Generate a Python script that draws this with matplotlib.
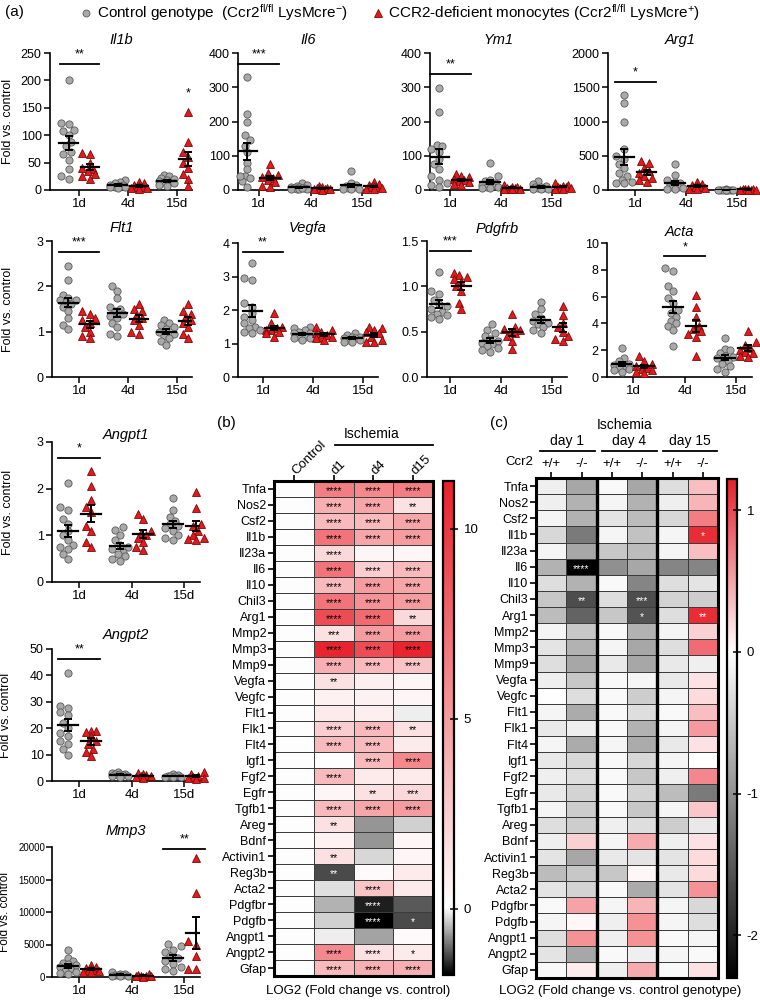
import numpy as np
import matplotlib.pyplot as plt
from matplotlib.colors import LinearSegmentedColormap, Normalize
from matplotlib.lines import Line2D

plt.rcParams['font.family'] = ['Liberation Sans', 'DejaVu Sans']
plt.rcParams['mathtext.fontset'] = 'custom'
plt.rcParams['mathtext.rm'] = 'Liberation Sans'
plt.rcParams['mathtext.it'] = 'Liberation Sans:italic'
plt.rcParams['axes.unicode_minus'] = False

W, H = 760, 1002

days = ['1d', '4d', '15d']

# (a) fold vs. control, each list = [1d, 4d, 15d]
il1b_ctrl = [[200, 123, 120, 110, 108, 100, 88, 80, 70, 65, 55, 38, 25, 20],
             [18, 15, 12, 10, 10, 8, 8, 7, 6, 5, 5, 4],
             [28, 25, 22, 20, 18, 16, 15, 14, 12, 10, 8]]
il1b_ko = [[68, 65, 50, 40, 38, 35, 30, 25, 20],
           [15, 12, 10, 8, 6, 5, 4, 3, 2],
           [142, 88, 70, 60, 50, 40, 30, 20, 8]]
il6_ctrl = [[330, 222, 200, 160, 145, 128, 110, 80, 60, 40, 35, 25, 10, 40],
            [20, 15, 12, 10, 8, 6, 5, 4, 3, 2, 2, 5],
            [55, 20, 15, 12, 10, 8, 6, 4, 3, 2]]
il6_ko = [[75, 50, 45, 38, 35, 30, 22, 12, 8],
          [12, 8, 6, 5, 4, 3, 2, 2, 1],
          [22, 18, 15, 12, 10, 8, 6, 4, 2]]
ym1_ctrl = [[298, 228, 130, 128, 120, 110, 90, 75, 60, 40, 30, 20, 15, 10],
            [80, 40, 30, 25, 20, 18, 15, 12, 10, 8, 5, 5],
            [25, 18, 12, 10, 8, 6, 5, 4, 3, 2]]
ym1_ko = [[48, 42, 38, 32, 28, 25, 22, 18, 15],
          [15, 10, 8, 6, 5, 4, 3, 2, 2],
          [20, 15, 12, 10, 8, 6, 5, 4, 3]]
arg1_ctrl = [[1380, 1270, 1000, 600, 500, 450, 380, 320, 250, 200, 150, 120, 100, 100],
             [380, 220, 150, 120, 100, 80, 60, 50, 40, 30, 20, 10],
             [8, 6, 5, 4, 3, 3, 2, 2, 1, 1]]
arg1_ko = [[430, 400, 320, 280, 250, 200, 180, 150, 110],
           [120, 90, 70, 60, 50, 40, 30, 20, 10],
           [20, 15, 10, 8, 6, 5, 4, 3, 2]]
flt1_ctrl = [[2.45, 2.15, 1.8, 1.75, 1.7, 1.7, 1.65, 1.6, 1.55, 1.45, 1.3, 1.15, 1.05],
             [2.0, 1.9, 1.75, 1.55, 1.5, 1.45, 1.4, 1.35, 1.3, 1.2, 1.1, 0.95, 0.9],
             [1.25, 1.2, 1.15, 1.1, 1.05, 1.0, 0.95, 0.9, 0.85, 0.8, 0.7]]
flt1_ko = [[1.45, 1.4, 1.3, 1.25, 1.2, 1.1, 1.0, 0.9, 0.85],
           [1.6, 1.5, 1.45, 1.35, 1.3, 1.25, 1.15, 1.0, 0.95],
           [1.6, 1.45, 1.4, 1.3, 1.25, 1.2, 1.1, 0.95, 0.85]]
vegfa_ctrl = [[3.4, 2.95, 2.9, 2.2, 2.1, 1.9, 1.8, 1.7, 1.6, 1.5, 1.45, 1.4, 1.35, 1.3],
              [1.5, 1.45, 1.4, 1.35, 1.3, 1.3, 1.25, 1.2, 1.2, 1.15, 1.15, 1.1],
              [1.3, 1.25, 1.2, 1.2, 1.15, 1.15, 1.1, 1.1, 1.05, 1.05]]
vegfa_ko = [[1.9, 1.6, 1.5, 1.45, 1.4, 1.4, 1.35, 1.3, 1.2],
            [1.5, 1.4, 1.35, 1.3, 1.25, 1.2, 1.2, 1.15, 1.1],
            [1.5, 1.45, 1.4, 1.35, 1.3, 1.2, 1.1, 1.05, 1.05]]
pdgfrb_ctrl = [[1.16, 0.95, 0.92, 0.85, 0.8, 0.78, 0.75, 0.72, 0.7, 0.68, 0.66, 0.64],
               [0.58, 0.52, 0.48, 0.45, 0.42, 0.4, 0.38, 0.36, 0.34, 0.32, 0.3, 0.28],
               [0.83, 0.75, 0.7, 0.65, 0.62, 0.6, 0.58, 0.55, 0.52, 0.48]]
pdgfrb_ko = [[1.15, 1.12, 1.1, 1.08, 1.05, 1.0, 0.95, 0.82, 0.75],
             [0.7, 0.55, 0.53, 0.52, 0.5, 0.48, 0.45, 0.4, 0.31],
             [0.78, 0.68, 0.6, 0.55, 0.5, 0.45, 0.42, 0.4]]
acta_ctrl = [[2.2, 1.4, 1.2, 1.0, 0.9, 0.8, 0.7, 0.6, 0.5, 0.4],
             [8.1, 7.9, 6.8, 6.4, 5.9, 5.5, 5.0, 4.8, 4.5, 4.2, 4.0, 3.8, 3.5, 2.3],
             [2.9, 2.1, 2.0, 1.8, 1.6, 1.5, 1.4, 1.2, 1.0, 0.8, 0.6, 0.4]]
acta_ko = [[1.6, 1.2, 1.0, 0.8, 0.7, 0.6, 0.5, 0.4, 0.3],
           [6.1, 5.2, 4.5, 3.8, 3.6, 3.4, 3.2, 3.0, 1.6],
           [3.4, 2.6, 2.4, 2.2, 2.0, 1.9, 1.8, 1.6, 1.5]]
angpt1_ctrl = [[2.12, 1.6, 1.55, 1.35, 1.25, 1.1, 1.0, 0.9, 0.8, 0.75, 0.7, 0.6, 0.5],
               [1.18, 1.12, 1.0, 0.9, 0.8, 0.75, 0.7, 0.65, 0.6, 0.55, 0.5, 0.45],
               [1.8, 1.55, 1.4, 1.3, 1.25, 1.2, 1.15, 1.1, 1.0, 0.95, 0.9]]
angpt1_ko = [[2.38, 2.05, 1.75, 1.6, 1.5, 1.2, 1.1, 0.85, 0.75],
             [1.45, 1.35, 1.1, 1.05, 1.0, 0.95, 0.85, 0.75, 0.68],
             [1.92, 1.58, 1.25, 1.2, 1.1, 1.0, 0.95, 0.92, 0.9]]
angpt2_ctrl = [[41, 28.5, 27.5, 26, 25, 22, 20, 18, 17, 15, 14, 12, 10],
               [3.5, 3, 2.8, 2.6, 2.5, 2.3, 2.2, 2, 1.8, 1.5],
               [2.5, 2.2, 2, 1.9, 1.8, 1.6, 1.5, 1.4]]
angpt2_ko = [[19, 19, 18.5, 17, 15, 14, 12, 11, 9.5],
             [3, 2.5, 2.2, 2, 1.8, 1.5, 1.2],
             [3.5, 2.5, 2, 1.5, 1.2, 1, 0.8]]
mmp3_ctrl = [[4100, 2900, 2500, 2200, 2000, 1800, 1500, 1200, 1000, 800, 600, 400],
             [700, 500, 400, 350, 300, 250, 200, 150, 100],
             [5100, 4700, 4200, 3800, 3200, 2900, 2500, 2000, 1500, 1200, 1000]]
mmp3_ko = [[1900, 1600, 1400, 1200, 1100, 1000, 900, 800, 700],
           [400, 300, 200, 150, 100, 80, 60],
           [18300, 13000, 5500, 5000, 3300, 1300, 1300]]

# (b) / (c) heatmaps
genes = ['Tnfa', 'Nos2', 'Csf2', 'Il1b', 'Il23a', 'Il6', 'Il10', 'Chil3', 'Arg1',
         'Mmp2', 'Mmp3', 'Mmp9', 'Vegfa', 'Vegfc', 'Flt1', 'Flk1', 'Flt4', 'Igf1',
         'Fgf2', 'Egfr', 'Tgfb1', 'Areg', 'Bdnf', 'Activin1', 'Reg3b', 'Acta2',
         'Pdgfbr', 'Pdgfb', 'Angpt1', 'Angpt2', 'Gfap']
b_cols = ['Control', 'd1', 'd4', 'd15']
b_vals = [[6.5, 6.0, 6.5], [4.0, 4.5, 1.5], [3.5, 3.5, 4.5], [7.0, 4.5, 5.0],
          [2.0, 0.5, 0.5], [7.0, 2.5, 3.5], [3.5, 5.0, 4.5], [7.0, 5.5, 5.0],
          [9.0, 7.5, 2.0], [1.5, 5.0, 5.0], [11.0, 9.0, 11.0], [4.0, 3.5, 3.0],
          [1.5, 0.8, 0.5], [0.7, 0.7, 0.5], [1.0, 0.8, -0.1], [2.5, 3.5, 1.5],
          [3.5, 3.5, 1.0], [0.0, 3.5, 6.0], [3.5, 1.0, 1.0], [0.5, 1.5, 2.0],
          [3.5, 4.5, 5.0], [1.5, -0.7, -0.3], [0.7, -0.7, 0.5], [1.5, -0.25, 0.5],
          [-1.2, 0.3, 1.0], [-0.2, 3.0, 1.0], [-0.5, -1.5, -1.1], [-0.3, -1.75, -1.2],
          [-0.1, -0.6, 0.3], [6.0, 1.5, 1.0], [3.5, 4.0, 4.0]]
b_stars = [['****', '****', '****'], ['****', '****', '**'], ['****', '****', '****'],
           ['****', '****', '****'], ['****', '', ''], ['****', '****', '****'],
           ['****', '****', '****'], ['****', '****', '****'], ['****', '****', '**'],
           ['***', '****', '****'], ['****', '****', '****'], ['****', '****', '****'],
           ['**', '', ''], ['', '', ''], ['', '', ''], ['****', '****', '**'],
           ['****', '****', ''], ['', '****', '****'], ['****', '', ''], ['', '**', '***'],
           ['****', '****', '****'], ['**', '', ''], ['', '', ''], ['**', '', ''],
           ['**', '', ''], ['', '****', ''], ['', '****', ''], ['', '****', '*'],
           ['', '', ''], ['****', '****', '*'], ['****', '****', '****']]
b_ticks = [10, 5, 0]
B_MIN, B_MAX = -1.75, 11.25

c_groups = ['day 1', 'day 4', 'day 15']
c_cols = ['+/+', '-/-', '+/+', '-/-', '+/+', '-/-']
c_vals = [[-0.15, -0.8, -0.05, -0.8, -0.3, 0.35], [-0.15, -0.7, -0.1, -0.7, -0.15, 0.4],
          [-0.1, -0.7, -0.25, -0.6, -0.35, 0.7], [-0.35, -1.2, -0.1, -0.55, -0.1, 1.15],
          [-0.1, -0.8, -0.5, -0.6, -0.1, 0.35], [-0.7, -2.3, -1.0, -0.8, -1.1, -1.1],
          [-0.3, -0.7, -0.05, -1.1, -0.3, -0.25], [-0.5, -1.6, -0.3, -1.6, -0.4, -0.45],
          [-0.6, -1.4, -0.5, -1.55, -0.3, 1.15], [-0.1, -0.5, -0.05, -0.7, -0.1, 0.25],
          [-0.25, -0.7, -0.1, -0.8, -0.3, 0.8], [-0.3, -0.8, -0.2, -0.8, -0.2, -0.15],
          [-0.15, -0.5, -0.05, -0.1, -0.2, 0.15], [0.0, -0.3, -0.05, -0.45, -0.1, 0.2],
          [-0.1, -0.75, -0.05, -0.3, -0.05, 0.35], [-0.2, -0.15, -0.05, -0.7, -0.1, 0.55],
          [-0.1, -0.75, -0.1, -0.75, -0.2, 0.15], [-0.2, -0.35, -0.05, -0.35, -0.1, 0.0],
          [-0.15, -0.3, -0.05, -0.5, -0.15, 0.65], [-0.2, -0.4, -0.05, -0.4, -0.6, -1.2],
          [-0.1, -0.45, -0.05, -0.5, -0.1, 0.3], [-0.3, -0.45, -0.15, -0.3, -0.45, -0.2],
          [-0.15, 0.25, -0.1, 0.45, -0.15, 0.15], [-0.25, -0.8, -0.2, -0.25, -0.25, 0.2],
          [-0.6, -0.5, -0.5, 0.05, -0.2, 0.2], [-0.25, -0.4, -0.05, -0.75, -0.25, 0.6],
          [-0.05, 0.5, -0.1, 0.4, -0.1, -0.35], [-0.1, 0.05, -0.15, 0.6, -0.1, -0.3],
          [-0.3, 0.6, -0.15, 0.6, -0.05, -0.1], [-0.25, -0.8, -0.05, -0.15, -0.1, -0.05],
          [-0.05, 0.1, -0.15, 0.45, -0.05, 0.15]]
c_stars = {(3, 5): '*', (5, 1): '****', (7, 1): '**', (7, 3): '***',
           (8, 3): '*', (8, 5): '**'}
c_ticks = [1, 0, -1, -2]
C_MIN, C_MAX = -2.3, 1.22

GRAY, GRAY_EDGE = '#a9a9a9', '#5a5a5a'
RED, RED_EDGE = '#e3191c', '#7a0a0a'
HEAT_RED = '#e8202a'

fig = plt.figure(figsize=(W / 100, H / 100), dpi=100)


def px_axes(x0, y0, x1, y1):
    return fig.add_axes([x0 / W, 1 - y1 / H, (x1 - x0) / W, (y1 - y0) / H])


def fig_text(x, y, s, **kw):
    fig.text(x / W, 1 - y / H, s, **kw)


def fig_line(x0, x1, y, lw=1.3):
    fig.add_artist(Line2D([x0 / W, x1 / W], [1 - y / H, 1 - y / H],
                          transform=fig.transFigure, color='k', lw=lw))


def swarm(vals, ypx, xpx, d=6.5, step=2.6):
    # spread points sideways a little; dense clusters are allowed to overlap
    order = np.argsort(vals)
    placed = []
    offs = np.zeros(len(vals))
    cands = [0, -1, 1, -2, 2, -3, 3]
    for i in order:
        y = vals[i] * ypx
        best, best_d = 0.0, -1.0
        for k in cands:
            x = k * step
            md = min([np.hypot(x - px, y - py) for px, py in placed] + [99.0])
            if md >= d:
                best = x
                break
            if md > best_d + 0.5:
                best, best_d = x, md
        placed.append((best, y))
        offs[i] = best / xpx
    return offs


def dot_panel(box, title_y, title, ctrl, ko, ymax, step, sig, left=0.5,
              ylabel_x=None, fmt='{:g}', tick_fs=9, label_fs=9):
    ax = px_axes(*box)
    x0, y0, x1, y1 = box
    right = 2.3
    xpx = (x1 - x0) / (left + right)
    ypx = (y1 - y0) / ymax
    for g in range(3):
        for vals, dx, mk, fc, ec, ms in [(ctrl[g], -0.22, 'o', GRAY, GRAY_EDGE, 5.2),
                                         (ko[g], 0.22, '^', RED, RED_EDGE, 5.6)]:
            v = np.array(vals, float)
            xs = g + dx + swarm(v, ypx, xpx)
            ax.plot(xs, v, ls='none', marker=mk, ms=ms, mfc=fc, mec=ec, mew=0.6,
                    clip_on=False, zorder=3)
            m = v.mean()
            se = v.std(ddof=1) / np.sqrt(len(v))
            ax.plot([g + dx - 0.19, g + dx + 0.19], [m, m], color='k', lw=1.6, zorder=4)
            ax.errorbar(g + dx, m, yerr=se, fmt='none', ecolor='k', elinewidth=1.4,
                        capsize=3.2, capthick=1.4, zorder=4)
    for g, stars, y, line in sig:
        if line:
            ax.plot([g - 0.4, g + 0.4], [y, y], color='k', lw=1.3, clip_on=False)
            ax.text(g, y + ymax * 0.025, stars, ha='center', va='bottom', fontsize=9)
        else:
            ax.text(g + 0.22, y, stars, ha='center', va='bottom', fontsize=9)
    ax.set_xlim(-left, right)
    ax.set_ylim(0, ymax)
    yt = np.arange(0, ymax + step / 2, step)
    ax.set_yticks(yt)
    ax.set_yticklabels([fmt.format(t) for t in yt], fontsize=tick_fs)
    ax.set_xticks(range(3))
    ax.set_xticklabels(days, fontsize=9.5)
    for s in ['top', 'right']:
        ax.spines[s].set_visible(False)
    for s in ['left', 'bottom']:
        ax.spines[s].set_linewidth(1.2)
    ax.tick_params(length=4, width=1.1, pad=2)
    if ylabel_x is not None:
        ax.set_ylabel('Fold vs. control', fontsize=label_fs)
        ax.yaxis.set_label_coords((ylabel_x - x0) / (x1 - x0), 0.5)
    fig_text((x0 + x1) / 2, title_y, title, ha='center', va='center',
             fontsize=10.5, style='italic')
    return ax


# ---- (a)
fig_text(5, 12, '(a)', fontsize=11, va='center')
fig.add_artist(Line2D([86 / W], [1 - 13 / H], transform=fig.transFigure, ls='none',
                      marker='o', ms=5, mfc=GRAY, mec=GRAY_EDGE, mew=0.6))
fig_text(97, 13, r'Control genotype  (Ccr2$^{\mathregular{fl/fl}}$ LysMcre$^{\mathregular{-}}$)',
         fontsize=11, va='center')
fig.add_artist(Line2D([378 / W], [1 - 13 / H], transform=fig.transFigure, ls='none',
                      marker='^', ms=5.2, mfc=RED, mec=RED_EDGE, mew=0.6))
fig_text(388, 13, r'CCR2-deficient monocytes (Ccr2$^{\mathregular{fl/fl}}$ LysMcre$^{\mathregular{+}}$)',
         fontsize=11, va='center')

dot_panel((50, 53, 192, 190), 40, 'Il1b', il1b_ctrl, il1b_ko, 250, 50,
          [(0, '**', 230, True), (2, '*', 165, False)], left=0.6, ylabel_x=14)
dot_panel((238, 53, 378, 190), 40, 'Il6', il6_ctrl, il6_ko, 400, 100,
          [(0, '***', 368, True)], left=0.4)
dot_panel((430, 53, 567, 190), 40, 'Ym1', ym1_ctrl, ym1_ko, 400, 100,
          [(0, '**', 339, True)], left=0.4)
dot_panel((608, 53, 752, 190), 40, 'Arg1', arg1_ctrl, arg1_ko, 2000, 500,
          [(0, '*', 1577, True)], left=0.54)

dot_panel((52, 241, 192, 377), 228, 'Flt1', flt1_ctrl, flt1_ko, 3, 1,
          [(0, '***', 2.76, True)], left=0.55, ylabel_x=14)
dot_panel((238, 243, 378, 377), 228, 'Vegfa', vegfa_ctrl, vegfa_ko, 4, 1,
          [(0, '**', 3.73, True)], left=0.5)
dot_panel((427, 241, 567, 377), 229, 'Pdgfrb', pdgfrb_ctrl, pdgfrb_ko, 1.5, 0.5,
          [(0, '***', 1.39, True)], left=0.46, fmt='{:.1f}')
dot_panel((607, 243, 752, 377), 232, 'Acta', acta_ctrl, acta_ko, 10, 2,
          [(1, '*', 9.0, True)], left=0.5)

dot_panel((52, 442, 200, 582), 435, 'Angpt1', angpt1_ctrl, angpt1_ko, 3, 1,
          [(0, '*', 2.66, True)], left=0.52, ylabel_x=14)
dot_panel((52, 649, 200, 781), 635, 'Angpt2', angpt2_ctrl, angpt2_ko, 50, 10,
          [(0, '**', 46.2, True)], left=0.52, ylabel_x=12)
mmp3_ax = dot_panel((52, 847, 200, 977), 831, 'Mmp3', mmp3_ctrl, mmp3_ko, 20000, 5000,
                    [(2, '**', 19700, True)], left=0.52, ylabel_x=11,
                    tick_fs=7, label_fs=8.5)
mmp3_ax.tick_params(axis='y', pad=1)


def heat_style(ax, ncol):
    ax.set_xlim(0, ncol)
    ax.set_ylim(len(genes), 0)
    ax.set_yticks(np.arange(len(genes)) + 0.5)
    ax.set_yticklabels(genes, fontsize=9)
    ax.xaxis.tick_top()
    ax.set_xticks(np.arange(ncol) + 0.5)
    ax.tick_params(length=4, width=1.2, pad=1.5)
    for s in ax.spines.values():
        s.set_linewidth(2.2)


def colorbar(mappable, box, ticks):
    cax = px_axes(*box)
    cb = fig.colorbar(mappable, cax=cax)
    cb.set_ticks(ticks)
    cb.ax.tick_params(direction='inout', length=6, width=1.1, labelsize=9.5, pad=4)
    cb.outline.set_linewidth(1.6)
    return cb


# ---- (b)
fig_text(217, 423, '(b)', fontsize=11, va='center')
hb = px_axes(274, 481, 433, 976)
data_b = np.column_stack([np.zeros(len(genes)), np.array(b_vals)])
pb = -B_MIN / (B_MAX - B_MIN)
cmap_b = LinearSegmentedColormap.from_list('b', [(0, 'black'), (pb, 'white'), (1, HEAT_RED)])
mb = hb.pcolormesh(np.arange(5), np.arange(len(genes) + 1), data_b, cmap=cmap_b,
                   norm=Normalize(B_MIN, B_MAX), edgecolors='#3c3c3c', linewidth=0.7)
heat_style(hb, 4)
hb.set_xticklabels(b_cols, rotation=45, ha='left', va='center',
                   rotation_mode='anchor', fontsize=9.5)
for r, row in enumerate(b_stars):
    for c, s in enumerate(row):
        if s:
            col = 'white' if b_vals[r][c] < -0.9 else 'black'
            hb.text(c + 1.5, r + 0.62, s, ha='center', va='center', fontsize=7.5, color=col)
fig_text(372, 434, 'Ischemia', ha='center', va='center', fontsize=10)
fig_line(335, 433, 445)
colorbar(mb, (443, 481, 454, 975), b_ticks)
fig_text(358, 991, 'LOG2 (Fold change vs. control)', ha='center', va='center', fontsize=9.5)

# ---- (c)
fig_text(490, 423, '(c)', fontsize=11, va='center')
hc = px_axes(536, 478, 718, 978)
pc = -C_MIN / (C_MAX - C_MIN)
cmap_c = LinearSegmentedColormap.from_list('c', [(0, 'black'), (pc, 'white'), (1, HEAT_RED)])
mc = hc.pcolormesh(np.arange(7), np.arange(len(genes) + 1), np.array(c_vals), cmap=cmap_c,
                   norm=Normalize(C_MIN, C_MAX), edgecolors='#3c3c3c', linewidth=0.7)
heat_style(hc, 6)
hc.set_xticklabels(c_cols, fontsize=9.5)
hc.tick_params(axis='x', pad=2)
for xg in [2, 4]:
    hc.axvline(xg, color='k', lw=2.4)
for (r, c), s in c_stars.items():
    v = c_vals[r][c]
    col = 'white' if (v < -1.0 or v > 0.9) else 'black'
    hc.text(c + 0.5, r + 0.62, s, ha='center', va='center', fontsize=7.5, color=col)
fig_text(533, 462, 'Ccr2', ha='right', va='center', fontsize=9.5)
fig_text(625, 425, 'Ischemia', ha='center', va='center', fontsize=10)
for name, (gx0, gx1) in zip(c_groups, [(540, 595), (602, 657), (663, 717)]):
    fig_text((gx0 + gx1) / 2, 441, name, ha='center', va='center', fontsize=10)
    fig_line(gx0, gx1, 451)
colorbar(mc, (727, 479, 737, 978), c_ticks)
fig_text(620, 991, 'LOG2 (Fold change vs. control genotype)', ha='center', va='center',
         fontsize=9.5)

fig.savefig('out.png', dpi=100)
